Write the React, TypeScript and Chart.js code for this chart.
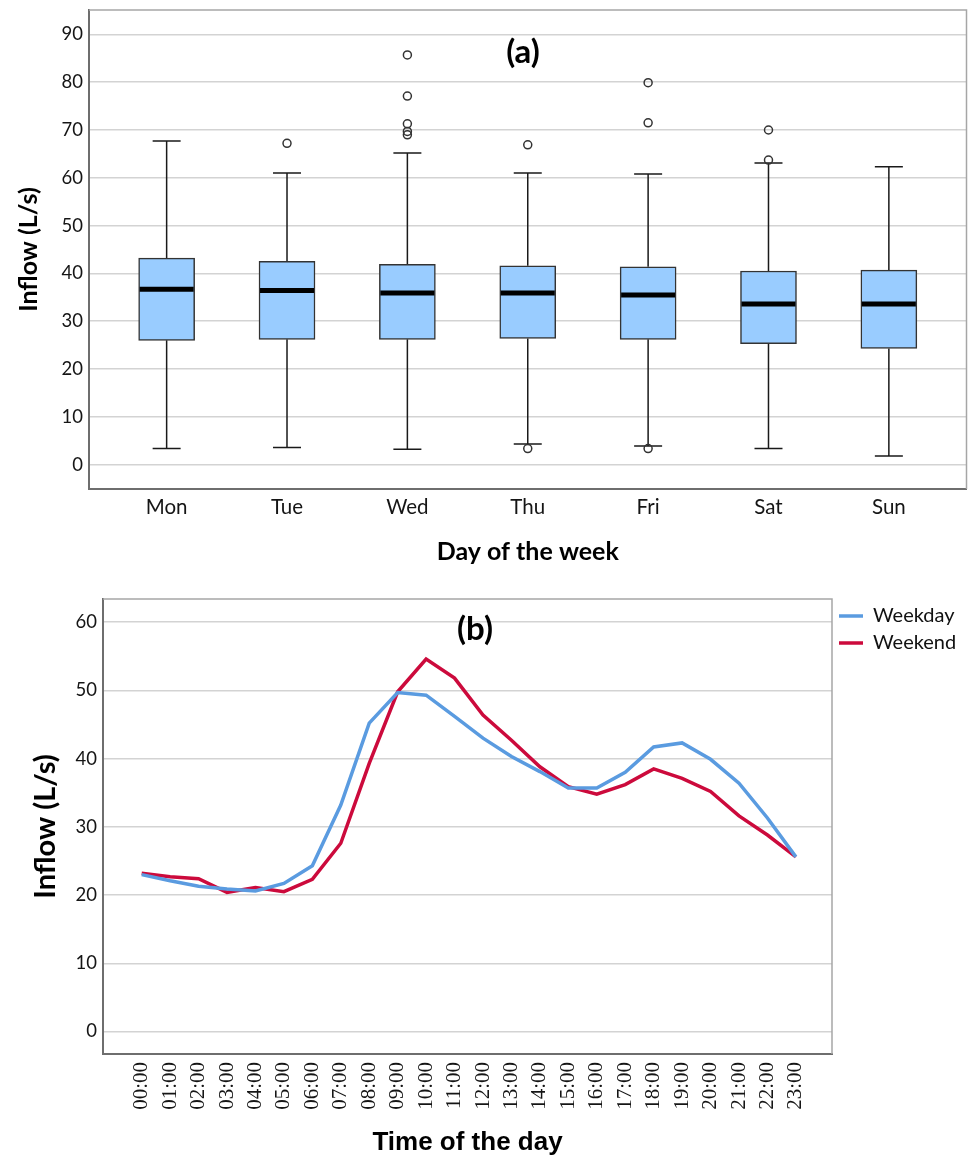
import React, { useEffect, useRef } from 'react';
import { Chart, registerables } from 'chart.js';

Chart.register(...registerables);

// ---------- Panel (a): box plot by day of week ----------
const days = ['Mon', 'Tue', 'Wed', 'Thu', 'Fri', 'Sat', 'Sun'];
const whiskerLow = [3.35, 3.6, 3.2, 4.3, 3.9, 3.35, 1.8];
const q1 = [26.0, 26.2, 26.2, 26.4, 26.2, 25.3, 24.3];
const median = [36.7, 36.4, 35.9, 35.9, 35.5, 33.6, 33.6];
const q3 = [43.2, 42.5, 41.9, 41.6, 41.4, 40.5, 40.7];
const whiskerHigh = [67.7, 61.0, 65.2, 61.0, 60.8, 63.1, 62.3];
const outliers: number[][] = [
  [],
  [67.2],
  [85.7, 77.1, 71.3, 69.7, 69.0],
  [66.9, 3.35],
  [79.9, 71.5, 3.35],
  [70.0, 63.7],
  [],
];
const boxTicks = [0, 10, 20, 30, 40, 50, 60, 70, 80, 90];

// ---------- Panel (b): hourly inflow ----------
const hours = [
  '00:00', '01:00', '02:00', '03:00', '04:00', '05:00', '06:00', '07:00',
  '08:00', '09:00', '10:00', '11:00', '12:00', '13:00', '14:00', '15:00',
  '16:00', '17:00', '18:00', '19:00', '20:00', '21:00', '22:00', '23:00',
];
const weekday = [
  23.0, 22.1, 21.3, 20.9, 20.6, 21.7, 24.3, 33.2, 45.2, 49.7, 49.3, 46.2,
  43.0, 40.3, 38.1, 35.7, 35.7, 38.0, 41.7, 42.3, 39.9, 36.4, 31.3, 25.6,
];
const weekend = [
  23.2, 22.7, 22.4, 20.4, 21.1, 20.5, 22.3, 27.6, 39.3, 49.8, 54.6, 51.8,
  46.4, 42.7, 38.8, 35.9, 34.8, 36.2, 38.5, 37.1, 35.2, 31.6, 28.8, 25.6,
];
const lineTicks = [0, 10, 20, 30, 40, 50, 60];

const W = 972;
const TOP_H = 580;
const BOT_H = 578;

const GRID = '#d3d3d3';
const AXIS = '#6e6e6e';
const FRAME = '#a6a6a6';
const TEXT = '#151515';
const BLUE = '#5A9BE0';
const RED = '#CC0A3C';

const framePlugin = {
  id: 'frameTR',
  afterDraw(chart: any) {
    const { ctx, chartArea } = chart;
    const { left, top, right, bottom } = chartArea;
    ctx.save();
    ctx.strokeStyle = FRAME;
    ctx.lineWidth = 1.5;
    ctx.beginPath();
    ctx.moveTo(left, top);
    ctx.lineTo(right, top);
    ctx.lineTo(right, bottom);
    ctx.stroke();
    ctx.restore();
  },
};

function panelLabel(text: string, x: number, y: number) {
  return {
    id: 'panelLabel',
    afterDraw(chart: any) {
      const { ctx } = chart;
      ctx.save();
      ctx.font = 'bold 33px Lato';
      ctx.fillStyle = '#000';
      ctx.textAlign = 'center';
      ctx.textBaseline = 'middle';
      ctx.fillText(text, x, y);
      ctx.restore();
    },
  };
}

const boxPlugin = {
  id: 'boxWhiskers',
  beforeDatasetsDraw(chart: any) {
    const { ctx } = chart;
    const xs = chart.scales.x;
    const ys = chart.scales.y;
    ctx.save();
    ctx.strokeStyle = '#1a1a1a';
    ctx.lineWidth = 1.5;
    days.forEach((_, i) => {
      const x = xs.getPixelForValue(i);
      const yHi = ys.getPixelForValue(whiskerHigh[i]);
      const yLo = ys.getPixelForValue(whiskerLow[i]);
      const yQ1 = ys.getPixelForValue(q1[i]);
      const yQ3 = ys.getPixelForValue(q3[i]);
      ctx.beginPath();
      ctx.moveTo(x, yQ3);
      ctx.lineTo(x, yHi);
      ctx.moveTo(x, yQ1);
      ctx.lineTo(x, yLo);
      ctx.moveTo(x - 14, yHi);
      ctx.lineTo(x + 14, yHi);
      ctx.moveTo(x - 14, yLo);
      ctx.lineTo(x + 14, yLo);
      ctx.stroke();
    });
    ctx.restore();
  },
  afterDatasetsDraw(chart: any) {
    const { ctx } = chart;
    const xs = chart.scales.x;
    const ys = chart.scales.y;
    ctx.save();
    ctx.strokeStyle = '#000';
    ctx.lineWidth = 5;
    days.forEach((_, i) => {
      const x = xs.getPixelForValue(i);
      const y = ys.getPixelForValue(median[i]);
      ctx.beginPath();
      ctx.moveTo(x - 27, y);
      ctx.lineTo(x + 27, y);
      ctx.stroke();
    });
    ctx.restore();
  },
};

export default function App() {
  const topRef = useRef<HTMLCanvasElement | null>(null);
  const botRef = useRef<HTMLCanvasElement | null>(null);

  useEffect(() => {
    const outlierPoints: { x: number; y: number }[] = [];
    outliers.forEach((arr, i) => arr.forEach((v) => outlierPoints.push({ x: i, y: v })));

    const topChart = new Chart(topRef.current as HTMLCanvasElement, {
      type: 'bar',
      data: {
        datasets: [
          {
            type: 'scatter',
            data: outlierPoints,
            pointRadius: 4,
            pointHoverRadius: 4,
            pointBorderWidth: 1.5,
            borderColor: '#333',
            backgroundColor: 'rgba(255,255,255,0)',
          } as any,
          {
            type: 'bar',
            data: days.map((_, i) => ({ x: i, y: [q1[i], q3[i]] })),
            backgroundColor: '#99CCFF',
            borderColor: '#333',
            borderWidth: 1.5,
            borderSkipped: false,
            barThickness: 56,
          } as any,
        ],
      },
      options: {
        responsive: false,
        animation: false,
        layout: { padding: { top: 10, right: 1, left: 0, bottom: 0 } },
        plugins: { legend: { display: false }, tooltip: { enabled: false } },
        scales: {
          x: {
            type: 'linear',
            min: -0.645,
            max: 6.645,
            offset: false,
            grid: { display: false, drawTicks: false },
            border: { color: AXIS, width: 2 },
            afterBuildTicks: (s: any) => {
              s.ticks = days.map((_, i) => ({ value: i }));
            },
            afterFit: (s: any) => {
              s.height = 91;
              s.paddingLeft = 0;
              s.paddingRight = 0;
              s.paddingTop = 0;
              s.paddingBottom = 0;
            },
            ticks: {
              callback: (_v: any, i: number) => days[i],
              font: { family: 'Lato', size: 20.5 },
              color: TEXT,
              padding: 6,
              autoSkip: false,
              maxRotation: 0,
              minRotation: 0,
            },
            title: {
              display: true,
              text: 'Day of the week',
              font: { family: 'Lato', size: 25, weight: 'bold' },
              color: '#000',
              padding: { top: 0, bottom: 13 },
            },
          } as any,
          y: {
            type: 'linear',
            min: -5.1,
            max: 95.1,
            grid: { color: GRID, lineWidth: 1.5, drawTicks: false },
            border: { color: AXIS, width: 2 },
            afterBuildTicks: (s: any) => {
              s.ticks = boxTicks.map((v) => ({ value: v }));
            },
            afterFit: (s: any) => {
              s.width = 89;
              s.paddingTop = 0;
              s.paddingBottom = 0;
              s.paddingLeft = 0;
              s.paddingRight = 0;
            },
            ticks: {
              font: { family: 'Lato', size: 18.5 },
              color: TEXT,
              padding: 6,
            },
            title: {
              display: true,
              text: 'Inflow (L/s)',
              font: { family: 'Lato', size: 25, weight: 'bold' },
              color: '#000',
              padding: { top: 14, bottom: 0 },
            },
          } as any,
        },
      },
      plugins: [boxPlugin, framePlugin, panelLabel('(a)', 523, 52)],
    });

    // legend width so the plot area ends where the reference's does
    const mctx = document.createElement('canvas').getContext('2d') as CanvasRenderingContext2D;
    mctx.font = '20px Lato';
    const tw = Math.max(mctx.measureText('Weekday').width, mctx.measureText('Weekend').width);
    const legendPad = 7;
    const boxW = 24;
    const legendWidth = legendPad + boxW + 10 + tw + 10;
    const padRight = Math.max(0, W - 832 - legendWidth);

    const botChart = new Chart(botRef.current as HTMLCanvasElement, {
      type: 'line',
      data: {
        datasets: [
          {
            label: 'Weekday',
            data: hours.map((_, i) => ({ x: i, y: weekday[i] })),
            borderColor: BLUE,
            backgroundColor: BLUE,
            borderWidth: 3.5,
            pointRadius: 0,
            tension: 0,
          },
          {
            label: 'Weekend',
            data: hours.map((_, i) => ({ x: i, y: weekend[i] })),
            borderColor: RED,
            backgroundColor: RED,
            borderWidth: 3.5,
            pointRadius: 0,
            tension: 0,
          },
        ],
      },
      options: {
        responsive: false,
        animation: false,
        layout: { padding: { top: 19, right: padRight, left: 0, bottom: 0 } },
        plugins: {
          tooltip: { enabled: false },
          legend: {
            position: 'right',
            align: 'start',
            labels: {
              usePointStyle: true,
              pointStyle: 'line',
              pointStyleWidth: boxW,
              font: { family: 'Lato', size: 20 },
              color: '#111',
              padding: legendPad,
            },
          },
        },
        scales: {
          x: {
            type: 'linear',
            min: -1.36,
            max: 24.27,
            offset: false,
            grid: { display: false, drawTicks: false },
            border: { color: AXIS, width: 2 },
            afterBuildTicks: (s: any) => {
              s.ticks = hours.map((_, i) => ({ value: i }));
            },
            afterFit: (s: any) => {
              s.height = 104;
              s.paddingLeft = 0;
              s.paddingRight = 0;
              s.paddingTop = 0;
              s.paddingBottom = 0;
            },
            ticks: {
              callback: (_v: any, i: number) => hours[i],
              font: { family: 'Liberation Serif', size: 21 },
              color: TEXT,
              padding: 8,
              autoSkip: false,
              maxRotation: 90,
              minRotation: 90,
            },
            title: {
              display: true,
              text: 'Time of the day',
              font: { family: 'Liberation Sans', size: 26, weight: 'bold' },
              color: '#000',
              padding: { top: 0, bottom: 0 },
            },
          } as any,
          y: {
            type: 'linear',
            min: -3.3,
            max: 63.4,
            grid: { color: GRID, lineWidth: 1.5, drawTicks: false },
            border: { color: AXIS, width: 2 },
            afterBuildTicks: (s: any) => {
              s.ticks = lineTicks.map((v) => ({ value: v }));
            },
            afterFit: (s: any) => {
              s.width = 103;
              s.paddingTop = 0;
              s.paddingBottom = 0;
              s.paddingLeft = 0;
              s.paddingRight = 0;
            },
            ticks: {
              font: { family: 'Lato', size: 18.5 },
              color: TEXT,
              padding: 6,
            },
            title: {
              display: true,
              text: 'Inflow (L/s)',
              font: { family: 'Lato', size: 29, weight: 'bold' },
              color: '#000',
              padding: { top: 28, bottom: 0 },
            },
          } as any,
        },
      },
      plugins: [framePlugin, panelLabel('(b)', 475, 49)],
    });

    return () => {
      topChart.destroy();
      botChart.destroy();
    };
  }, []);

  return (
    <div style={{ position: 'absolute', left: 0, top: 0, width: W, height: TOP_H + BOT_H, background: '#fff' }}>
      <canvas ref={topRef} width={W} height={TOP_H} style={{ display: 'block', width: W, height: TOP_H }} />
      <canvas ref={botRef} width={W} height={BOT_H} style={{ display: 'block', width: W, height: BOT_H }} />
    </div>
  );
}
